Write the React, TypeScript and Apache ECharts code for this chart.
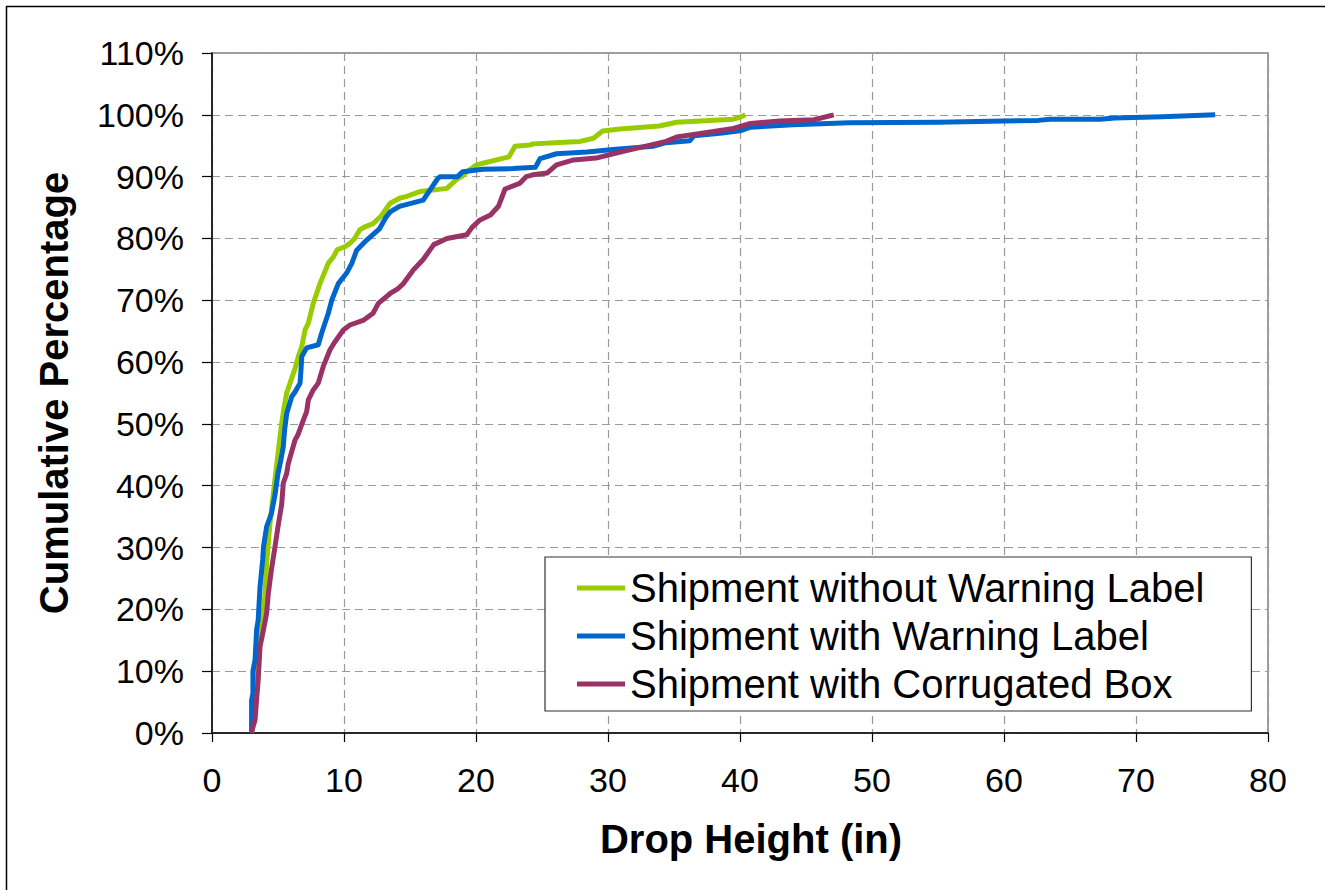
import React, { useEffect, useRef } from "react";
import * as echarts from "echarts";

const seriesNames = [
  "Shipment without Warning Label",
  "Shipment with Warning Label",
  "Shipment with Corrugated Box",
];
const seriesColors = ["#99CC00", "#0066CC", "#993366"];

const xTicks = [0, 10, 20, 30, 40, 50, 60, 70, 80];
const yTicks = [0, 10, 20, 30, 40, 50, 60, 70, 80, 90, 100, 110];

// [drop height (in), cumulative %]
const withoutLabel: [number, number][] = [
  [3.0, 0], [3.1, 4], [3.3, 9], [3.5, 13], [3.8, 17.7], [4.0, 22], [4.14, 27.4], [4.39, 33.9],
  [4.65, 38.8], [4.77, 41], [5.0, 45.2], [5.28, 50.1], [5.45, 52.5], [5.66, 55], [6.04, 57.4],
  [6.3, 59], [6.54, 60.9], [6.8, 62.5], [7.05, 65.2], [7.3, 66.3], [7.67, 69.5], [8.18, 72.7],
  [8.81, 76], [9.19, 77], [9.5, 78.2], [10.1, 78.7], [10.45, 79.2], [10.8, 80], [11.2, 81.4],
  [11.5, 81.8], [12.2, 82.4], [12.8, 83.6], [13.5, 85.7], [14.2, 86.5], [14.75, 86.8], [15.8, 87.6],
  [16.26, 87.7], [17.8, 88.1], [18.5, 89.5], [19.04, 90.2], [19.3, 90.8], [20.05, 91.9], [20.6, 92.2],
  [22.1, 93], [22.5, 93.2], [22.95, 94.9], [24.1, 95.1], [24.3, 95.3], [26, 95.5], [27.9, 95.7],
  [28.9, 96.2], [29.6, 97.4], [30.9, 97.7], [33.9, 98.2], [35.2, 98.8], [37, 99], [39.5, 99.3],
  [40, 99.6], [40.4, 100],
];

const withLabel: [number, number][] = [
  [3.0, 0], [3.0, 5.3], [3.1, 6.4], [3.1, 10], [3.26, 11.8], [3.38, 16.7], [3.5, 18.3], [3.64, 23.7],
  [3.84, 28], [3.9, 30.1], [4.14, 33.4], [4.5, 35.5], [4.77, 38.5], [5.0, 42], [5.2, 44], [5.4, 46.3],
  [5.5, 49], [5.66, 51.7], [6.04, 54.4], [6.3, 55.2], [6.67, 56.6], [6.75, 59], [6.8, 60.9],
  [7.17, 62.3], [8.05, 62.8], [8.31, 64.7], [8.81, 67.9], [9.07, 70], [9.57, 72.7], [10.2, 74.4],
  [10.6, 76], [10.96, 78.1], [11.7, 79.7], [12.7, 81.6], [13.2, 83.5], [13.5, 84.3], [14.2, 85.2],
  [16.0, 86.2], [16.6, 88.1], [17.1, 89.7], [17.3, 90], [18.6, 90], [19.0, 90.8], [20.5, 91.2],
  [22.8, 91.3], [24.5, 91.5], [24.85, 92.9], [26.1, 93.7], [28.4, 94], [30.4, 94.4], [33.4, 94.9],
  [34.4, 95.5], [36.2, 95.8], [36.5, 96.6], [38.5, 97.0], [40.0, 97.4], [40.8, 98.0], [44, 98.4],
  [48.3, 98.7], [55, 98.8], [60, 99.0], [62.6, 99.1], [63.5, 99.3], [67.3, 99.3], [68.4, 99.5],
  [72, 99.7], [76, 100],
];

const corrugatedBox: [number, number][] = [
  [3.0, 0], [3.08, 0.8], [3.26, 2.1], [3.4, 6], [3.5, 8.6], [3.64, 14], [3.9, 16.7], [4.14, 19.4],
  [4.27, 22.6], [4.5, 26.4], [4.77, 30.1], [5.0, 33.4], [5.28, 37], [5.4, 40.4], [5.66, 42],
  [5.78, 43.6], [6.29, 47.4], [6.5, 48.2], [6.92, 50.6], [7.17, 52], [7.3, 53.9], [7.67, 55.5],
  [8.05, 56.6], [8.43, 59.3], [8.94, 62], [9.32, 63.3], [9.95, 65.2], [10.45, 66], [11.5, 66.8],
  [12.2, 67.9], [12.6, 69.5], [13.5, 71.1], [14.1, 71.9], [14.5, 72.7], [15.25, 74.9], [16.0, 76.6],
  [16.8, 79], [17.8, 80], [19.3, 80.6], [19.7, 81.8], [20.3, 83], [21.1, 83.8], [21.7, 85.2],
  [22.2, 88], [23.3, 88.9], [23.8, 90], [24.3, 90.3], [25.4, 90.6], [26.1, 91.9], [27.4, 92.7],
  [29.1, 93], [30.4, 93.7], [31.4, 94.2], [33.2, 95.1], [34.4, 95.7], [35.2, 96.4], [37, 97],
  [39.5, 97.8], [40.8, 98.6], [43, 99], [45.6, 99.2], [47.1, 100],
];

const allSeries = [withoutLabel, withLabel, corrugatedBox];

const FONT = "'Liberation Sans', Arial, Helvetica, sans-serif";

export default function App() {
  const ref = useRef<HTMLDivElement>(null);

  useEffect(() => {
    if (!ref.current) return;
    const chart = echarts.init(ref.current, undefined, { renderer: "svg" });
    const gridLine = { show: true, lineStyle: { color: "#9a9a9a", type: [8, 5] as any, width: 1.2 } };
    chart.setOption({
      animation: false,
      backgroundColor: "#ffffff",
      textStyle: { fontFamily: FONT },
      grid: {
        left: 212,
        top: 53,
        width: 1056,
        height: 680,
        show: true,
        borderColor: "#808080",
        borderWidth: 1.5,
        containLabel: false,
      },
      graphic: [
        {
          type: "rect",
          shape: { x: 6.5, y: 6.5, width: 1400, height: 1000 },
          style: { fill: "none", stroke: "#000", lineWidth: 1.5 },
          silent: true,
        },
      ],
      xAxis: {
        type: "value",
        min: xTicks[0],
        max: xTicks[xTicks.length - 1],
        interval: xTicks[1] - xTicks[0],
        name: "Drop Height (in)",
        nameLocation: "middle",
        nameGap: 86,
        nameTextStyle: {
          fontSize: 40,
          fontWeight: "bold",
          color: "#000",
          fontFamily: FONT,
          padding: [0, 0, 0, 22],
        },
        axisLine: { show: true, onZero: false, lineStyle: { color: "#000", width: 1.5 } },
        axisTick: { show: true, length: 9, lineStyle: { color: "#000", width: 1.2 } },
        axisLabel: { fontSize: 34, color: "#000", margin: 30, fontFamily: FONT },
        splitLine: gridLine,
      },
      yAxis: {
        type: "value",
        min: yTicks[0],
        max: yTicks[yTicks.length - 1],
        interval: yTicks[1] - yTicks[0],
        name: "Cumulative Percentage",
        nameLocation: "middle",
        nameGap: 138,
        nameTextStyle: { fontSize: 40, fontWeight: "bold", color: "#000", fontFamily: FONT },
        axisLine: { show: true, onZero: false, lineStyle: { color: "#000", width: 1.5 } },
        axisTick: { show: true, length: 10, lineStyle: { color: "#000", width: 1.2 } },
        axisLabel: { fontSize: 34, color: "#000", margin: 28, formatter: "{value}%", fontFamily: FONT },
        splitLine: gridLine,
      },
      legend: {
        orient: "vertical",
        left: 545,
        top: 557,
        backgroundColor: "#ffffff",
        borderColor: "#333",
        borderWidth: 1.2,
        padding: [7, 47, 3, 32],
        itemGap: 0,
        itemWidth: 48,
        itemHeight: 5,
        icon: "rect",
        textStyle: { fontSize: 40, color: "#000", lineHeight: 48, fontFamily: FONT },
        data: seriesNames,
      },
      series: allSeries.map((d, i) => ({
        name: seriesNames[i],
        type: "line",
        data: d,
        showSymbol: false,
        symbol: "none",
        smooth: false,
        color: seriesColors[i],
        lineStyle: { width: 5, color: seriesColors[i], join: "round" },
        itemStyle: { color: seriesColors[i] },
        z: 3 + i,
      })),
    });
    return () => chart.dispose();
  }, []);

  return (
    <div
      ref={ref}
      style={{ position: "absolute", left: 0, top: 0, width: 1325, height: 890, background: "#fff" }}
    />
  );
}
